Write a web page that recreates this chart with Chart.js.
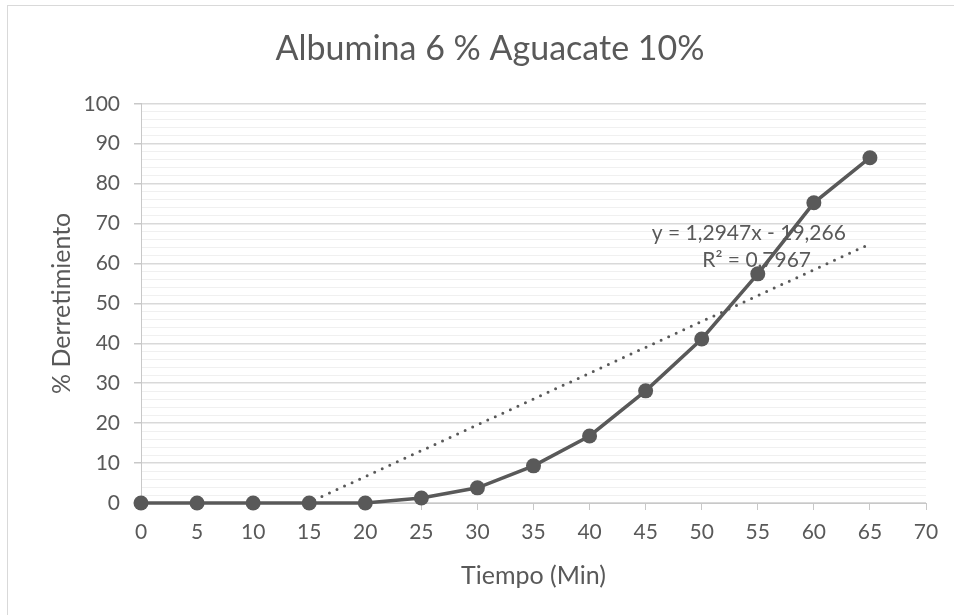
<!DOCTYPE html>
<html>
<head>
<meta charset="utf-8">
<script src="https://cdn.jsdelivr.net/npm/chart.js@4"></script>
<style>
  html, body { margin: 0; padding: 0; background: #ffffff; }
  #wrap { width: 954px; height: 615px; position: relative; }
</style>
</head>
<body>
<div id="wrap"><canvas id="c" width="954" height="615"></canvas></div>
<script>
// Melting time (minutes) and melted percentage
const tiempo = [0, 5, 10, 15, 20, 25, 30, 35, 40, 45, 50, 55, 60, 65];
const derretimiento = [0, 0, 0, 0, 0, 1.25, 3.8, 9.3, 16.8, 28.1, 41.1, 57.4, 75.2, 86.5];

// Linear trendline as reported on the chart
const trendSlope = 1.2947;
const trendIntercept = -19.266;
const trendR2 = 0.7967;
const trendLabel = ['y = 1,2947x - 19,266', 'R\u00B2 = 0,7967'];

const titleText = 'Albumina 6 % Aguacate 10%';
const xTitle = 'Tiempo (Min)';
const yTitle = '% Derretimiento';

const FONT = 'Lato, "Open Sans", sans-serif';
const INK = '#595959';

const seriesPoints = tiempo.map((t, i) => ({ x: t, y: derretimiento[i] }));
const trendX = [0, tiempo[tiempo.length - 1]];
const trendPoints = trendX.map(x => ({ x, y: trendSlope * x + trendIntercept }));

// Outer chart border and trendline equation text
const decorations = {
  id: 'decorations',
  beforeDraw(chart) {
    const ctx = chart.ctx;
    ctx.save();
    ctx.fillStyle = '#ffffff';
    ctx.fillRect(0, 0, chart.width, chart.height);
    ctx.strokeStyle = '#d9d9d9';
    ctx.lineWidth = 1;
    ctx.strokeRect(7.5, 5.5, 1200, 1200);
    ctx.restore();
  },
  afterDatasetsDraw(chart) {
    const ctx = chart.ctx;
    const xs = chart.scales.x, ys = chart.scales.y;
    ctx.save();
    ctx.fillStyle = INK;
    ctx.font = '21px ' + FONT;
    ctx.textAlign = 'center';
    ctx.textBaseline = 'middle';
    ctx.fillText(trendLabel[0], xs.getPixelForValue(54.2), ys.getPixelForValue(67.6));
    ctx.fillText(trendLabel[1], xs.getPixelForValue(54.9), ys.getPixelForValue(60.8));
    ctx.restore();
  }
};

new Chart(document.getElementById('c'), {
  type: 'line',
  data: {
    datasets: [
      {
        label: 'Derretimiento',
        data: seriesPoints,
        borderColor: INK,
        backgroundColor: INK,
        borderWidth: 3.5,
        pointRadius: 7.5,
        pointHoverRadius: 7.5,
        pointBackgroundColor: INK,
        pointBorderColor: INK,
        pointBorderWidth: 0,
        tension: 0,
        clip: 12,
        order: 1
      },
      {
        label: 'Lineal',
        data: trendPoints,
        borderColor: INK,
        borderWidth: 3,
        borderDash: [0, 8.3],
        borderCapStyle: 'round',
        pointRadius: 0,
        tension: 0,
        order: 2
      }
    ]
  },
  options: {
    responsive: false,
    animation: false,
    events: [],
    layout: { padding: { left: 54, right: 28, top: 0, bottom: 0 } },
    plugins: {
      legend: { display: false },
      tooltip: { enabled: false },
      title: {
        display: true,
        text: titleText,
        color: INK,
        font: { family: FONT, size: 34, weight: 'normal' },
        padding: { top: 29, bottom: 34 }
      }
    },
    scales: {
      x: {
        type: 'linear',
        min: 0,
        max: 70,
        afterFit(s) { s.height = 112; },
        ticks: {
          stepSize: 5,
          color: INK,
          font: { family: FONT, size: 21 },
          padding: 10,
          maxRotation: 0
        },
        grid: {
          drawOnChartArea: false,
          drawTicks: true,
          tickLength: 7,
          tickColor: '#c8c8c8',
          tickWidth: 1
        },
        border: { color: '#c8c8c8', width: 1 },
        title: {
          display: true,
          text: xTitle,
          color: INK,
          font: { family: FONT, size: 25 },
          padding: { top: 0, bottom: 24 }
        }
      },
      y: {
        min: 0,
        max: 100,
        afterFit(s) { s.width = 87; },
        ticks: {
          stepSize: 2,
          autoSkip: false,
          color: INK,
          font: { family: FONT, size: 21 },
          padding: 14,
          callback: v => (v % 10 === 0 ? String(v) : '')
        },
        grid: {
          color: ctx => (ctx.tick && ctx.tick.value % 10 === 0 ? '#d9d9d9' : '#f0f0f0'),
          lineWidth: ctx => (ctx.tick && ctx.tick.value % 10 === 0 ? 1.5 : 1),
          drawTicks: true,
          tickLength: 7,
          tickColor: ctx => (ctx.tick && ctx.tick.value % 10 === 0 ? '#c8c8c8' : 'rgba(0,0,0,0)')
        },
        border: { color: '#c8c8c8', width: 1 },
        title: {
          display: true,
          text: yTitle,
          color: INK,
          font: { family: FONT, size: 25 },
          padding: { top: -7, bottom: 0 }
        }
      }
    }
  },
  plugins: [decorations]
});
</script>
</body>
</html>
